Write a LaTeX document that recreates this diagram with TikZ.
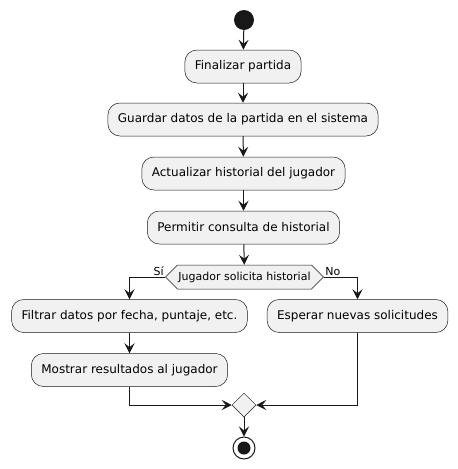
\documentclass[tikz,border=0pt]{standalone}
\usepackage{fontspec}
\setmainfont{DejaVu Sans}
\usetikzlibrary{arrows.meta,shapes.geometric,shapes.symbols}
\definecolor{umlfill}{HTML}{F1F1F1}
\definecolor{umlline}{HTML}{181818}
\tikzset{
  action/.style={draw=umlline, fill=umlfill, line width=0.5pt, rounded corners=12pt,
    minimum height=33pt, inner xsep=10pt, font=\fontsize{12}{14}\selectfont},
  branch/.style={draw=umlline, fill=umlfill, line width=0.5pt, signal, signal to=west and east,
    signal pointer angle=90, minimum height=24pt, inner xsep=1pt, font=\fontsize{11}{13}\selectfont},
  merge/.style={draw=umlline, fill=umlfill, line width=0.5pt, diamond, minimum size=24pt, inner sep=0pt},
  flow/.style={draw=umlline, line width=1pt, -{Stealth[length=10pt,width=10pt,inset=4pt]}},
  guard/.style={font=\fontsize{11}{13}\selectfont, inner sep=1pt}
}
\begin{document}
\begin{tikzpicture}[x=1pt,y=-1pt]
    \useasboundingbox (0,0) rectangle (458,469);

    \node[circle, fill=umlline, minimum size=20pt, inner sep=0pt] (start) at (244,20) {};
    \node[action] (finalizar) at (243,66.5) {Finalizar partida};
    \node[action] (guardar) at (243,119.5) {Guardar datos de la partida en el sistema};
    \node[action] (actualizar) at (243.5,173.5) {Actualizar historial del jugador};
    \node[action] (permitir) at (243.5,227.5) {Permitir consulta de historial};
    \node[branch] (solicita) at (244.5,277) {Jugador solicita historial};
    \node[action] (filtrar) at (129.5,316) {Filtrar datos por fecha, puntaje, etc.};
    \node[action] (esperar) at (357.5,316) {Esperar nuevas solicitudes};
    \node[action] (mostrar) at (129.5,370) {Mostrar resultados al jugador};
    \node[merge] (juntar) at (244,405) {};
    \node[circle, draw=umlline, line width=1pt, fill=white, minimum size=22pt, inner sep=0pt] (fin) at (244,448) {};
    \node[circle, fill=umlline, minimum size=13pt, inner sep=0pt] (findot) at (fin) {};

    \draw[flow] (start) -- (finalizar);
    \draw[flow] (finalizar) -- (guardar);
    \draw[flow] (guardar) -- (actualizar);
    \draw[flow] (actualizar) -- (permitir);
    \draw[flow] (permitir) -- (solicita);
    \draw[flow] (solicita.west) -| node[guard, at start, anchor=south east] {Sí} (filtrar.north);
    \draw[flow] (solicita.east) -| node[guard, at start, anchor=south west] {No} (esperar.north);
    \draw[flow] (filtrar) -- (mostrar);
    \draw[flow] (mostrar.south) |- (juntar.west);
    \draw[flow] (esperar.south) |- (juntar.east);
    \draw[flow] (juntar) -- (fin);
\end{tikzpicture}
\end{document}
